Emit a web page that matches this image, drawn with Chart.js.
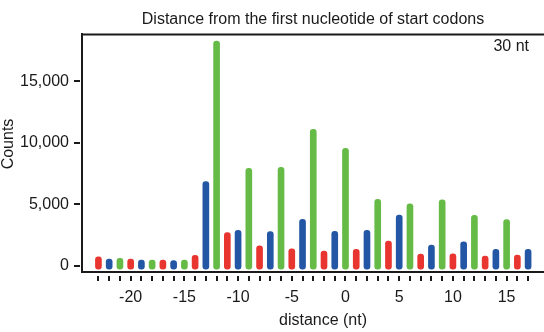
<!DOCTYPE html>
<html>
<head>
<meta charset="utf-8">
<title>Start codon distance</title>
<script src="https://cdn.jsdelivr.net/npm/chart.js@4.4.1/dist/chart.umd.min.js"></script>
<style>
  html, body { margin: 0; padding: 0; background: #fff; }
  #wrap { width: 544px; height: 332px; }
</style>
</head>
<body>
<div id="wrap"><canvas id="chart" width="544" height="332"></canvas></div>
<script>
// read counts per position relative to the first nucleotide of the start codon
const distances = [-23, -22, -21, -20, -19, -18, -17, -16, -15, -14, -13, -12, -11, -10, -9, -8, -7, -6, -5, -4,
    -3, -2, -1, 0, 1, 2, 3, 4, 5, 6, 7, 8, 9, 10, 11, 12, 13, 14, 15, 16, 17];
const counts = [730, 545, 600, 545, 460, 460, 460, 410, 460, 845, 6830, 18270, 2685, 2875, 7920, 1625, 2765, 8000, 1380, 3770,
    11090, 1195, 2795, 9545, 1330, 2875, 5400, 2010, 4120, 5040, 950, 1680, 5365, 975, 1950, 4095, 790, 1330, 3740, 870, 1330];
const frameColors = ["#e93530", "#2357a5", "#66bb47"];
const yTicks = [0, 5000, 10000, 15000];
const xLabelStep = 5;
const readLength = "30 nt";

const FONT = "Arial, 'Liberation Sans', sans-serif";
const INK = "#1a1a1a";

// frame, offset tick marks and free-standing texts
const decorations = {
    id: "decorations",
    afterDraw(chart) {
        const ctx = chart.ctx;
        const area = chart.chartArea;
        const xs = chart.scales.x;
        const ys = chart.scales.y;
        ctx.save();
        ctx.strokeStyle = INK;
        ctx.lineWidth = 2;

        // top edge of the box
        ctx.beginPath();
        ctx.moveTo(area.left - 1, area.top + 0.5);
        ctx.lineTo(area.right, area.top + 0.5);
        ctx.stroke();

        // x tick marks, detached from the axis line
        ctx.beginPath();
        distances.forEach(d => {
            const px = Math.round(xs.getPixelForValue(d));
            ctx.moveTo(px, area.bottom + 4);
            ctx.lineTo(px, area.bottom + 9);
        });
        // y tick marks
        yTicks.forEach(v => {
            const py = Math.round(ys.getPixelForValue(v));
            ctx.moveTo(area.left - 8, py);
            ctx.lineTo(area.left - 2, py);
        });
        ctx.stroke();

        ctx.fillStyle = INK;
        ctx.font = "16px " + FONT;

        ctx.textAlign = "center";
        ctx.textBaseline = "alphabetic";
        ctx.fillText("Distance from the first nucleotide of start codons", (area.left + area.right) / 2, 23.5);

        ctx.textAlign = "right";
        ctx.fillText(readLength, 529, 51);

        ctx.textAlign = "center";
        ctx.textBaseline = "middle";
        ctx.fillText("distance (nt)", 323, 321);

        ctx.translate(9, 144);
        ctx.rotate(-Math.PI / 2);
        ctx.fillText("Counts", 0, 0);
        ctx.restore();
    }
};

new Chart(document.getElementById("chart"), {
    type: "bar",
    data: {
        datasets: [{
            data: distances.map((d, i) => ({ x: d, y: counts[i] })),
            backgroundColor: distances.map((_, i) => frameColors[i % 3]),
            barThickness: 6,
            borderRadius: 3,
            borderSkipped: false,
            base: -290
        }]
    },
    options: {
        responsive: false,
        animation: false,
        devicePixelRatio: 1,
        layout: { padding: { top: 34, left: 0, right: 0, bottom: 0 } },
        plugins: {
            legend: { display: false },
            title: { display: false },
            tooltip: { enabled: false }
        },
        scales: {
            x: {
                type: "linear",
                offset: false,
                min: -24.53,
                max: 18.48,
                afterBuildTicks: scale => { scale.ticks = distances.map(v => ({ value: v })); },
                afterFit: scale => { scale.height = 60; },
                grid: { display: false, drawTicks: true, tickLength: 8 },
                border: { display: true, color: INK, width: 2 },
                ticks: {
                    autoSkip: false,
                    maxRotation: 0,
                    padding: 8,
                    color: INK,
                    font: { family: FONT, size: 16 },
                    callback: v => (v % xLabelStep === 0 ? String(v) : "")
                }
            },
            y: {
                min: -512,
                max: 18837,
                afterBuildTicks: scale => { scale.ticks = yTicks.map(v => ({ value: v })); },
                afterFit: scale => { scale.width = 82; },
                grid: { display: false, drawTicks: true, tickLength: 8 },
                border: { display: true, color: INK, width: 2 },
                ticks: {
                    padding: 5,
                    color: INK,
                    font: { family: FONT, size: 16 },
                    callback: v => v.toLocaleString("en-US")
                }
            }
        }
    },
    plugins: [decorations]
});
</script>
</body>
</html>
